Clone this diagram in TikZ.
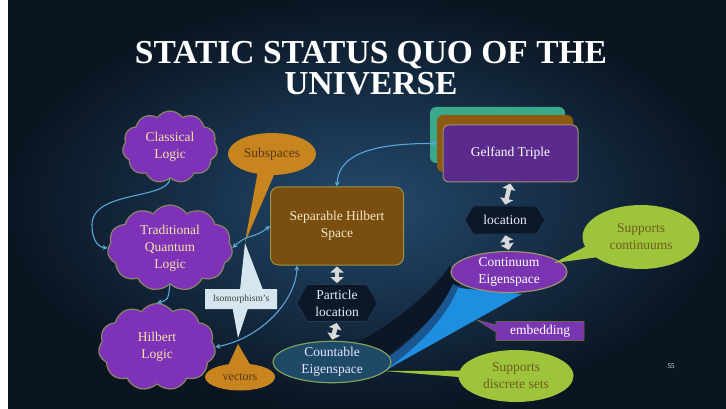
\documentclass[tikz,border=0pt]{standalone}
\usepackage{fontspec}
\setmainfont{Liberation Serif}
\usetikzlibrary{shapes.symbols,shapes.geometric,shapes.callouts,arrows.meta,calc}
\definecolor{bgin}{HTML}{244A6E}
\definecolor{bgout}{HTML}{0A1522}
\definecolor{cloudpurple}{HTML}{7D32B8}
\definecolor{cloudborder}{HTML}{8C8468}
\definecolor{cloudtext}{HTML}{F6E4A6}
\definecolor{orangec}{HTML}{C8841E}
\definecolor{orangetext}{HTML}{5A3A12}
\definecolor{brownbox}{HTML}{7A4E0E}
\definecolor{brownborder}{HTML}{9C9442}
\definecolor{creamtext}{HTML}{F4E8C8}
\definecolor{hexfill}{HTML}{0C1828}
\definecolor{hexborder}{HTML}{1E3A56}
\definecolor{countfill}{HTML}{1E4A68}
\definecolor{countborder}{HTML}{7E9E5C}
\definecolor{gteal}{HTML}{3BA88C}
\definecolor{gbrown}{HTML}{8C5A10}
\definecolor{gpurple}{HTML}{5A2A8C}
\definecolor{gborder}{HTML}{9C9270}
\definecolor{contpurple}{HTML}{7A34B2}
\definecolor{lime}{HTML}{9EC43C}
\definecolor{limetext}{HTML}{6E5E1A}
\definecolor{isofill}{HTML}{D6E6EE}
\definecolor{linkblue}{HTML}{5AA6D6}
\definecolor{arrowgrey}{HTML}{D9D9D9}
\definecolor{funnel}{HTML}{1E8EE0}
\definecolor{funnelmid}{HTML}{1A5690}
\definecolor{funneldark}{HTML}{0B1726}
\definecolor{embedfill}{HTML}{7A36B0}
\tikzset{
  txt/.style={font=\fontsize{13.5}{17}\selectfont, align=center, inner sep=0pt},
  cloudnode/.style={txt, cloud, cloud puffs=11, cloud puff arc=110, cloud ignores aspect,
    fill=cloudpurple, draw=cloudborder, line width=1.2pt, text=cloudtext},
  hexnode/.style={txt, signal, signal to=west and east, signal pointer angle=120,
    fill=hexfill, draw=hexborder, line width=0.8pt, text=white!92!blue},
  gbox/.style={rectangle, rounded corners=6pt, minimum width=135pt, minimum height=57pt},
  oval/.style={txt, ellipse callout, fill=orangec, text=orangetext},
  limeoval/.style={txt, ellipse callout, fill=lime, text=limetext},
  link/.style={draw=linkblue, line width=1.1pt, -{Stealth[length=5pt,width=5pt]}},
  biglink/.style={draw=linkblue, line width=1.1pt, {Stealth[length=5pt,width=5pt]}-{Stealth[length=5pt,width=5pt]}},
  fat/.style={draw=arrowgrey, line width=4.5pt, shorten <=1pt, shorten >=1pt,
    {Triangle[width=13pt,length=6pt]}-{Triangle[width=13pt,length=6pt]}}
}
\begin{document}
\begin{tikzpicture}[x=1pt,y=-1pt]
\useasboundingbox (0,0) rectangle (726,409);
\fill[white] (0,0) rectangle (726,409);
\shade[inner color=bgin, outer color=bgout] (8,0) rectangle (726,409);
% title
\node[font=\fontsize{33.5}{31}\selectfont\bfseries, text=white, align=center] (title) at (371,68)
  {STATIC STATUS QUO OF THE\\UNIVERSE};
% background swirl and funnel
\fill[funneldark] (340,352) .. controls (392,326) and (428,296) .. (450,266)
  -- (462,282) .. controls (435,318) and (400,348) .. (372,366) -- cycle;
\fill[funnelmid] (378,364) .. controls (415,340) and (440,312) .. (453,284)
  -- (466,290) .. controls (448,320) and (420,345) .. (388,370) -- cycle;
\fill[funnel] (386,370) .. controls (420,345) and (446,318) .. (458,288)
  -- (522,294) -- cycle;
% left clouds
\node[cloudnode, minimum width=95pt, minimum height=72pt] (classical) at (170,147) {Classical\\Logic};
\node[cloudnode, minimum width=125pt, minimum height=86pt] (tql) at (170,248) {Traditional\\Quantum\\Logic};
\node[cloudnode, minimum width=117pt, minimum height=87pt] (hilbert) at (157,347) {Hilbert\\Logic};
% separable hilbert space
\node[txt, rectangle, rounded corners=8pt, minimum width=133pt, minimum height=78pt,
  fill=brownbox, draw=brownborder, line width=1pt, text=creamtext] (sep) at (337,226) {Separable Hilbert\\Space};
\node[hexnode, minimum width=81pt, minimum height=37pt] (particle) at (337,303) {Particle\\location};
\node[txt, ellipse, minimum width=118pt, minimum height=41pt, fill=countfill, draw=countborder,
  line width=1.2pt, text=white!90!blue] (countable) at (332,362) {Countable\\Eigenspace};
% callouts
\node[oval, minimum width=88pt, minimum height=42pt, callout absolute pointer={(245,242)},
  callout pointer arc=22] (subspaces) at (272,154) {Subspaces};
\fill[isofill] (240,290) -- (245,243) -- (263,290) -- cycle;
\node[txt, rectangle callout, fill=isofill, text=black!75, font=\fontsize{9.5}{11}\selectfont,
  minimum width=72pt, minimum height=20pt, callout absolute pointer={(238,338)},
  callout pointer width=15pt] (iso) at (241,299) {Isomorphism's};
\node[oval, minimum width=70pt, minimum height=27pt, font=\fontsize{12}{14}\selectfont,
  callout absolute pointer={(238,344)}, callout pointer arc=35] (vectors) at (240,377) {vectors};
% gelfand triple
\node[gbox, fill=gteal, minimum width=135pt, minimum height=56pt] (gelfandA) at (497.5,135) {};
\node[gbox, fill=gbrown, minimum width=136pt] (gelfandB) at (505,143.5) {};
\node[gbox, txt, fill=gpurple, draw=gborder, line width=1pt, text=white, minimum width=135pt, minimum height=57pt]
  (gelfand) at (510.5,153.5) {Gelfand Triple};
\node[hexnode, minimum width=80pt, minimum height=28pt] (loc) at (505,220) {location};
\node[txt, ellipse, minimum width=116pt, minimum height=41pt, fill=contpurple, draw=gborder,
  line width=1.2pt, text=white] (continuum) at (509,272) {Continuum\\Eigenspace};
\node[limeoval, minimum width=117pt, minimum height=64pt, callout absolute pointer={(554,263)},
  callout pointer arc=22] (supcont) at (641,237) {Supports\\continuums};
\node[limeoval, minimum width=115pt, minimum height=52pt, callout absolute pointer={(384,371)},
  callout pointer arc=14] (supdisc) at (516,376) {Supports\\discrete sets};
\node[txt, rectangle callout, fill=embedfill, draw=gborder!70!black, line width=0.6pt, text=white,
  minimum width=88pt, minimum height=19pt, callout absolute pointer={(477,320)},
  callout pointer width=7pt] (embed) at (540,331) {embedding};
\node[font=\fontsize{7}{8}\selectfont, text=white] (page) at (671,366) {55};
% connectors
\draw[link] (classical.south) .. controls (168,200) and (92,190) .. (92,225)
  .. controls (92,240) and (98,247) .. (tql.west);
\draw[link] (tql.south) .. controls (168,300) .. (hilbert.north);
\draw[biglink] (tql.east) .. controls (250,232) and (252,240) .. (sep.west);
\draw[biglink] (hilbert.east) .. controls (262,338) and (296,300) .. ([xshift=27pt]sep.south west);
\draw[biglink] (gelfandB.west) .. controls (360,143) and (338,160) .. (sep.north);
\draw[fat] (sep.south) -- (particle.north);
\draw[fat] (particle.south) -- (countable.north);
\draw[fat] (gelfand.south) -- (loc.north);
\draw[fat] (loc.south) -- (continuum.north);
\end{tikzpicture}
\end{document}
